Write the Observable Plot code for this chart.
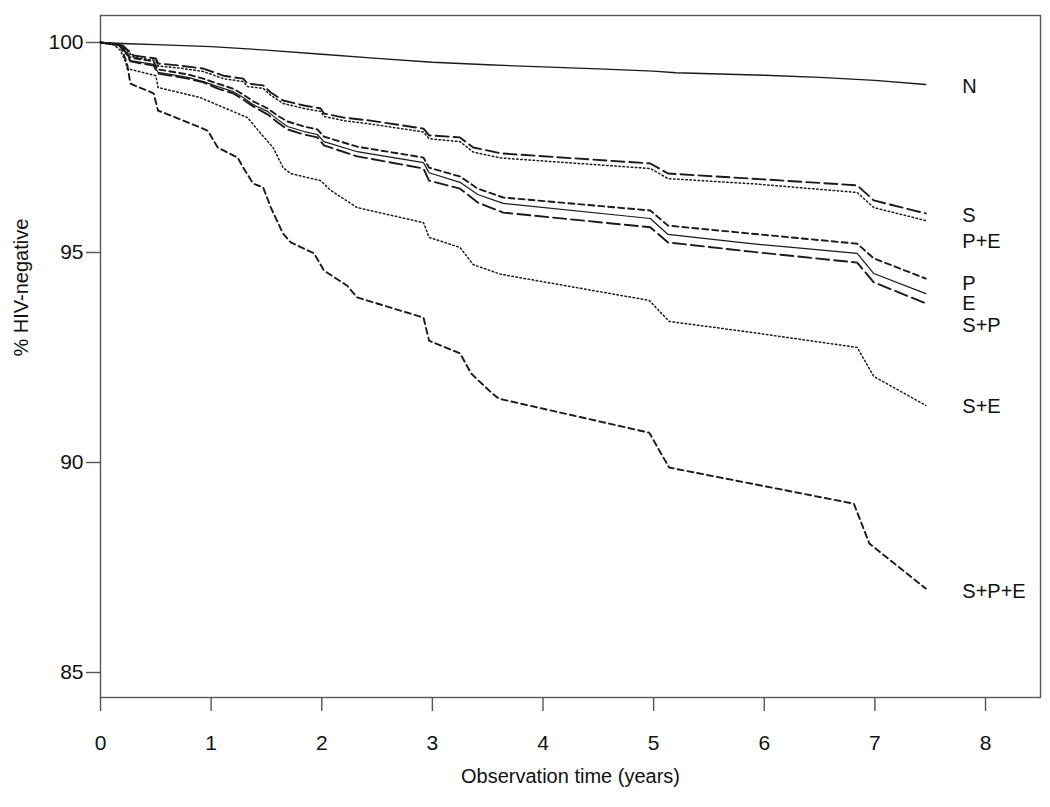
<!DOCTYPE html>
<html>
<head>
<meta charset="utf-8">
<script src="https://cdn.jsdelivr.net/npm/d3@7"></script>
<script src="https://cdn.jsdelivr.net/npm/@observablehq/plot@0.6"></script>
<style>
  html, body { margin: 0; padding: 0; background: #fff; }
  svg { display: block; font-family: "Liberation Sans", Arial, sans-serif; }
</style>
</head>
<body>
<div id="chart"></div>
<script>
// ---- data ----
const seriesNames = ["N", "S", "P+E", "P", "E", "S+P", "S+E", "S+P+E"];

const tN = [0, 0.25, 0.5, 1, 1.5, 2, 2.5, 3, 3.5, 4, 4.5, 5, 5.2, 6, 6.5, 7, 7.46];
const vN = [100, 99.97, 99.95, 99.9, 99.82, 99.72, 99.62, 99.53, 99.47, 99.42, 99.37, 99.32, 99.28, 99.22, 99.17, 99.1, 99.0];

const tS = [0, 0.20, 0.30, 0.50, 0.52, 0.72, 0.93, 1.11, 1.29, 1.33, 1.47, 1.54, 1.65, 1.84, 1.99, 2.02, 2.20, 2.44, 2.92, 2.97, 3.25, 3.37, 3.62, 4.97, 5.13, 5.88, 6.84, 6.99, 7.46];
const vS = [100, 99.93, 99.69, 99.62, 99.5, 99.45, 99.38, 99.21, 99.14, 99.02, 98.98, 98.81, 98.62, 98.5, 98.43, 98.31, 98.21, 98.14, 97.95, 97.79, 97.74, 97.5, 97.36, 97.12, 96.88, 96.76, 96.6, 96.24, 95.93];

const tPE = [0, 0.20, 0.30, 0.50, 0.52, 0.72, 0.93, 1.11, 1.29, 1.33, 1.47, 1.54, 1.65, 1.84, 1.99, 2.02, 2.20, 2.44, 2.92, 2.97, 3.25, 3.37, 3.62, 4.97, 5.13, 5.88, 6.84, 6.99, 7.46];
const vPE = [100, 99.92, 99.65, 99.57, 99.44, 99.39, 99.31, 99.14, 99.07, 98.95, 98.91, 98.74, 98.55, 98.43, 98.36, 98.24, 98.14, 98.06, 97.87, 97.71, 97.64, 97.39, 97.25, 97.0, 96.76, 96.64, 96.43, 96.07, 95.76];

const tLow = [0, 0.16, 0.22, 0.27, 0.48, 0.52, 0.79, 0.93, 1.06, 1.20, 1.29, 1.38, 1.51, 1.60, 1.69, 1.84, 1.96, 2.02, 2.32, 2.92, 2.97, 3.25, 3.41, 3.64, 4.97, 5.13, 5.88, 6.84, 6.99, 7.46];
const vP = [100, 99.95, 99.83, 99.64, 99.55, 99.36, 99.24, 99.14, 99.02, 98.90, 98.76, 98.60, 98.43, 98.26, 98.12, 98.0, 97.93, 97.76, 97.52, 97.26, 97.02, 96.81, 96.52, 96.31, 96.0, 95.64, 95.45, 95.21, 94.86, 94.38];
const vE = [100, 99.95, 99.81, 99.57, 99.48, 99.29, 99.17, 99.07, 98.95, 98.83, 98.69, 98.52, 98.36, 98.17, 98.0, 97.88, 97.81, 97.64, 97.40, 97.14, 96.90, 96.67, 96.38, 96.17, 95.81, 95.43, 95.21, 94.98, 94.5, 94.02];
const vSP = [100, 99.95, 99.79, 99.55, 99.45, 99.26, 99.14, 99.05, 98.90, 98.79, 98.64, 98.48, 98.29, 98.10, 97.93, 97.81, 97.74, 97.55, 97.29, 97.0, 96.71, 96.52, 96.19, 95.95, 95.60, 95.24, 95.02, 94.76, 94.29, 93.79];

const tSE = [0, 0.12, 0.18, 0.23, 0.24, 0.50, 0.52, 0.90, 1.24, 1.33, 1.45, 1.56, 1.65, 1.72, 1.99, 2.08, 2.32, 2.92, 2.97, 3.25, 3.37, 3.62, 4.96, 5.14, 5.88, 6.84, 6.99, 7.46];
const vSE = [100, 99.95, 99.81, 99.52, 99.38, 99.21, 98.93, 98.69, 98.31, 98.21, 97.83, 97.5, 97.02, 96.88, 96.71, 96.48, 96.07, 95.71, 95.36, 95.12, 94.71, 94.48, 93.86, 93.36, 93.10, 92.74, 92.05, 91.36];

const tSPE = [0, 0.18, 0.24, 0.27, 0.48, 0.52, 0.90, 0.97, 1.06, 1.24, 1.29, 1.38, 1.47, 1.54, 1.65, 1.72, 1.93, 2.02, 2.23, 2.32, 2.92, 2.97, 3.25, 3.35, 3.53, 3.60, 4.96, 5.14, 6.81, 6.95, 7.46];
const vSPE = [100, 99.93, 99.5, 99.02, 98.79, 98.38, 97.98, 97.90, 97.5, 97.26, 97.02, 96.64, 96.55, 96.07, 95.45, 95.24, 94.98, 94.57, 94.21, 93.93, 93.45, 92.90, 92.60, 92.12, 91.67, 91.52, 90.71, 89.88, 89.02, 88.07, 87.0];

// curve labels, anchored in data units at the right
const labelT = [7.79, 7.79, 7.79, 7.79, 7.79, 7.79, 7.79, 7.79];
const labelV = [98.93, 95.86, 95.24, 94.25, 93.76, 93.24, 91.31, 86.90];

const xTicks = [0, 1, 2, 3, 4, 5, 6, 7, 8];
const yTicks = [85, 90, 95, 100];

// ---- build tables ----
const seriesData = {
  "N": [tN, vN], "S": [tS, vS], "P+E": [tPE, vPE], "P": [tLow, vP],
  "E": [tLow, vE], "S+P": [tLow, vSP], "S+E": [tSE, vSE], "S+P+E": [tSPE, vSPE]
};
const rows = name => seriesData[name][0].map((t, i) => ({series: name, t, v: seriesData[name][1][i]}));

const styles = {
  "N":     {dash: null,    w: 1.3},
  "S":     {dash: "13,5",  w: 1.9},
  "P+E":   {dash: "1.5,2.6", w: 1.5},
  "P":     {dash: "6,4",   w: 1.9},
  "E":     {dash: null,    w: 1.2},
  "S+P":   {dash: "13,5",  w: 1.9},
  "S+E":   {dash: "1.5,2.6", w: 1.5},
  "S+P+E": {dash: "6,4",   w: 1.9}
};

const lineMarks = seriesNames.map(name => Plot.line(rows(name), {
  x: "t", y: "v", stroke: "#1a1a1a", strokeWidth: styles[name].w,
  strokeDasharray: styles[name].dash || undefined, curve: "linear"
}));

const labels = seriesNames.map((s, i) => ({s, t: labelT[i], v: labelV[i]}));

const chart = Plot.plot({
  width: 1050,
  height: 807,
  marginLeft: 100,
  marginRight: 10,
  marginTop: 15,
  marginBottom: 110,
  style: {fontFamily: "'Liberation Sans', Arial, sans-serif", background: "#fff"},
  x: {domain: [0, 8.497]},
  y: {domain: [84.405, 100.643]},
  marks: [
    Plot.frame({stroke: "#555", strokeWidth: 1.4}),
    Plot.axisX({ticks: xTicks, tickSize: 14, tickPadding: 24, fontSize: 21, label: null, stroke: "#555", strokeWidth: 1.4, fill: "#111"}),
    Plot.axisY({ticks: yTicks, tickSize: 14, tickPadding: 3, fontSize: 21, label: null, stroke: "#555", strokeWidth: 1.4, fill: "#111"}),
    ...lineMarks,
    Plot.text(labels, {x: "t", y: "v", text: "s", textAnchor: "start", fontSize: 20, lineHeight: 0.9, fill: "#111"}),
    Plot.text(["Observation time (years)"], {frameAnchor: "bottom", dy: 85, fontSize: 20, fill: "#111"}),
    Plot.text(["% HIV-negative"], {frameAnchor: "left", dx: -79, rotate: -90, fontSize: 20, fill: "#111"})
  ]
});
document.getElementById("chart").appendChild(chart);
</script>
</body>
</html>
